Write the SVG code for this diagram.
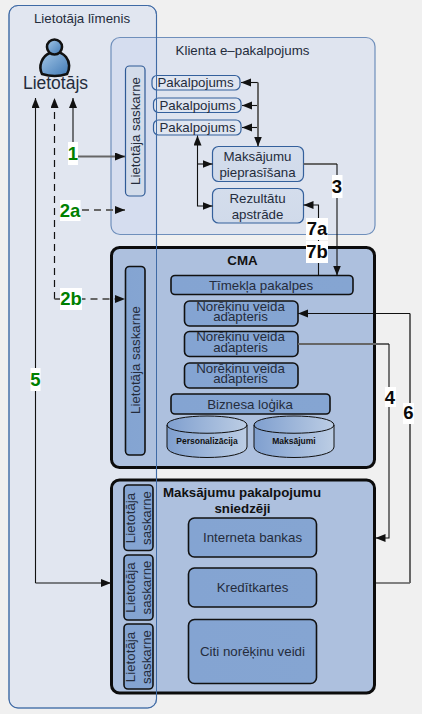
<svg xmlns="http://www.w3.org/2000/svg" width="422" height="714" viewBox="0 0 422 714">
<style>
text{font-family:"Liberation Sans",Arial,sans-serif;fill:#242c3c;text-anchor:middle;font-size:13.3px}
.panel{stroke:#6f8fbb;stroke-width:1.2}
.ui1{fill:#d3dcea;stroke:#2f5a96;stroke-width:1.2}
.svc{fill:#dfe5f0;stroke:#34609c;stroke-width:1.2}
.proc{fill:url(#gl);stroke:#34609c;stroke-width:1.2}
.big{fill:#adc0de;stroke:#0c0c0c;stroke-width:3}
.box{fill:url(#gb);stroke:#111;stroke-width:1.6}
.cyl{fill:url(#gc);stroke:#111;stroke-width:1}
.top{fill:none;stroke:#111;stroke-width:1}
.c{fill:none;stroke:#111;stroke-width:1.1}
.g{fill:none;stroke:#666;stroke-width:2}
.d{fill:none;stroke:#111;stroke-width:1.2;stroke-dasharray:7 5}
.dg{fill:none;stroke:#666;stroke-width:1.8;stroke-dasharray:7 5}
.num{font-weight:bold;font-size:18.5px;fill:#0a0a0a}
.gr{font-weight:bold;font-size:18.5px;fill:#008000}
.ttl{font-weight:bold;font-size:13.3px;fill:#111}
.db{font-weight:bold;font-size:8.5px;fill:#111}
.who{font-size:17.5px}
.w{fill:#fff;stroke:none}
</style>
<defs>
<linearGradient id="gb" x1="0" x2="1" y1="0" y2="0"><stop offset="0" stop-color="#84a4d2"/><stop offset="1" stop-color="#85a5d2"/></linearGradient>
<linearGradient id="gl" x1="0" x2="0" y1="0" y2="1"><stop offset="0" stop-color="#d4ddec"/><stop offset="1" stop-color="#d0daea"/></linearGradient>
<linearGradient id="gc" x1="0" x2="1" y1="0" y2="0"><stop offset="0" stop-color="#7f9fcf"/><stop offset="1" stop-color="#bccde4"/></linearGradient>
<linearGradient id="gu" x1="0" x2="1" y1="0" y2="1"><stop offset="0" stop-color="#a5c8e8"/><stop offset="1" stop-color="#3f78b4"/></linearGradient>
<marker id="a" markerUnits="userSpaceOnUse" markerWidth="11" markerHeight="9" refX="10" refY="4" orient="auto"><path d="M0 0L10 4L0 8Z" fill="#111"/></marker>
</defs>
<rect width="422" height="714" fill="#f0f0f0"/>
<g id="level"><rect class="panel" x="9" y="5.5" width="147.5" height="702.5" rx="9" fill="#e1e6f0"/><text x="82" y="23">Lietotāja līmenis</text></g>
<g id="client"><rect class="panel" x="111" y="37.5" width="264" height="197" rx="9" fill="#bbcbf0" fill-opacity=".3"/><text x="242.5" y="55">Klienta e–pakalpojums</text>
<rect class="ui1" x="125.5" y="66" width="19.5" height="130" rx="4"/><text transform="translate(139.5 131) rotate(-90)">Lietotāja saskarne</text></g>
<g id="user">
<path d="M42 74C38 66 42 56 50 53C56 51 62 52 66 57C70 62 70 69 67 74Q55 78 42 74Z" fill="url(#gu)" stroke="#111" stroke-width="2.6"/>
<circle cx="54.5" cy="47" r="7.5" fill="url(#gu)" stroke="#111" stroke-width="2.6"/>
<text class="who" x="55.5" y="89">Lietotājs</text></g>
<g id="pak1"><rect class="svc" x="152" y="75.5" width="88" height="14.5" rx="5"/><text x="195.5" y="87">Pakalpojums</text></g>
<g id="pak2"><rect class="svc" x="153.5" y="98" width="87.5" height="14.5" rx="5"/><text x="197.5" y="109.500">Pakalpojums</text></g>
<g id="pak3"><rect class="svc" x="153.5" y="120" width="87.5" height="15" rx="5"/><text x="197.5" y="132">Pakalpojums</text></g>
<g id="maks"><rect class="proc" x="212.5" y="146.5" width="91" height="35" rx="6"/><text x="257.5" y="160.5">Maksājumu</text><text x="257.5" y="176.5">pieprasīšana</text></g>
<g id="rez"><rect class="proc" x="212.5" y="188.5" width="91" height="34.5" rx="6"/><text x="257.5" y="202.5">Rezultātu</text><text x="257.5" y="218.5">apstrāde</text></g>

<g id="cma"><rect class="big" x="111.5" y="247.5" width="263" height="220" rx="8"/><text class="ttl" x="242.5" y="265">CMA</text>
<rect class="box" x="125.5" y="266.5" width="19.5" height="188.5" rx="4"/><text transform="translate(139.5 360) rotate(-90)">Lietotāja saskarne</text></g>
<g id="web"><rect class="box" x="171" y="275.5" width="182" height="19" rx="4"/><text x="261" y="289.5">Tīmekļa pakalpes</text></g>
<g id="ad1"><rect class="box" x="184.5" y="301" width="113.5" height="25" rx="5"/><text x="240.5" y="311">Norēķinu veida</text><text x="240.5" y="321">adapteris</text></g>
<g id="ad2"><rect class="box" x="184.5" y="331.5" width="113.5" height="25" rx="5"/><text x="240.5" y="341">Norēķinu veida</text><text x="240.5" y="351.5">adapteris</text></g>
<g id="ad3"><rect class="box" x="184.5" y="363" width="113.5" height="25" rx="5"/><text x="240.5" y="372.5">Norēķinu veida</text><text x="240.5" y="383">adapteris</text></g>
<g id="biz"><rect class="box" x="171" y="394" width="159" height="20" rx="4"/><text x="250" y="408.5">Biznesa loģika</text></g>
<g id="db1"><path class="cyl" d="M167 425C167 413 247 413 247 425V447C247 461 167 461 167 447Z"/><path class="top" d="M167 425C167 436 247 436 247 425"/><text class="db" x="207" y="444">Personalizācija</text></g>
<g id="db2"><path class="cyl" d="M254 425C254 413 334 413 334 425V447C334 461 254 461 254 447Z"/><path class="top" d="M254 425C254 436 334 436 334 425"/><text class="db" x="294" y="444">Maksājumi</text></g>

<g id="prov"><rect class="big" x="111.5" y="480" width="263" height="213" rx="8"/><text class="ttl" x="242" y="497">Maksājumu pakalpojumu</text><text class="ttl" x="242.5" y="513">sniedzēji</text>
<rect class="box" x="124" y="485" width="29" height="65.5" rx="4"/><text transform="translate(135 518) rotate(-90)">Lietotāja</text><text transform="translate(151 518) rotate(-90)">saskarne</text>
<rect class="box" x="124" y="555" width="29" height="65" rx="4"/><text transform="translate(135 587.5) rotate(-90)">Lietotāja</text><text transform="translate(151 587.5) rotate(-90)">saskarne</text>
<rect class="box" x="124" y="624" width="29" height="65" rx="4"/><text transform="translate(135 657) rotate(-90)">Lietotāja</text><text transform="translate(151 657) rotate(-90)">saskarne</text></g>
<g id="ib"><rect class="box" x="188.5" y="518" width="128" height="39" rx="6"/><text x="252.5" y="541.5">Interneta bankas</text></g>
<g id="kk"><rect class="box" x="188.5" y="568" width="128" height="39" rx="6"/><text x="252.5" y="591.5">Kredītkartes</text></g>
<g id="cn"><rect class="box" x="188.5" y="619.5" width="128" height="64" rx="6"/><text x="252.5" y="655.5">Citi norēķinu veidi</text></g>
<rect x="9" y="5.5" width="147.5" height="702.5" rx="9" fill="none" stroke="#3f6aa5" stroke-width="1"/>

<g id="connectors">
<path class="c" d="M73 142V98" marker-end="url(#a)"/>
<path class="g" d="M73 156.500H125" marker-end="url(#a)"/>
<path class="dg" d="M70 210H125" marker-end="url(#a)"/>
<path class="d" d="M54.5 299V98" marker-end="url(#a)"/>
<path class="dg" d="M54.5 299H125" marker-end="url(#a)"/>
<path class="c" d="M35.5 583V98" marker-end="url(#a)"/>
<path class="c" d="M35.5 583H111" marker-end="url(#a)"/>
<path class="c" d="M258 82.5H241" marker-end="url(#a)"/>
<path class="c" d="M258 105.5H242" marker-end="url(#a)"/>
<path class="c" d="M258 127.5H242" marker-end="url(#a)"/>
<path class="g" d="M258 82.5V146.5" marker-end="url(#a)"/>
<path class="c" d="M197.5 164V135.5" marker-end="url(#a)"/>
<path class="c" d="M197.5 164H212.5" marker-end="url(#a)"/>
<path class="c" d="M197.5 164V206H212.5" marker-end="url(#a)"/>
<path class="g" d="M303.5 164H337"/>
<path class="c" d="M337 164V275.5" marker-end="url(#a)"/>
<path class="c" d="M318.5 275.5V205H303.5" marker-end="url(#a)"/>
<path class="g" d="M298 344H389"/>
<path class="c" d="M389 344V538H375.5" marker-end="url(#a)"/>
<path class="c" d="M375.5 583H410"/>
<path class="g" d="M410 583V313.500"/>
<path class="c" d="M410 313.500H298" marker-end="url(#a)"/>
<rect class="w" x="68" y="142" width="10" height="23"/><text class="gr" x="73" y="160">1</text>
<rect class="w" x="60" y="200" width="20.5" height="21"/><text class="gr" x="70" y="216.5">2a</text>
<rect class="w" x="60" y="288" width="22" height="22"/><text class="gr" x="71" y="305">2b</text>
<rect class="w" x="30.5" y="368" width="10" height="23"/><text class="gr" x="35.5" y="385.5">5</text>
<rect class="w" x="332" y="175" width="10.5" height="23"/><text class="num" x="337" y="192.5">3</text>
<rect class="w" x="306" y="218" width="22" height="22"/><text class="num" x="317" y="234.5">7a</text>
<rect class="w" x="306" y="241" width="22" height="22"/><text class="num" x="317" y="257.5">7b</text>
<rect class="w" x="385" y="387" width="11" height="20"/><text class="num" x="390" y="403.5">4</text>
<rect class="w" x="403" y="403" width="11" height="21"/><text class="num" x="408.5" y="418.5">6</text>
</g>
</svg>
